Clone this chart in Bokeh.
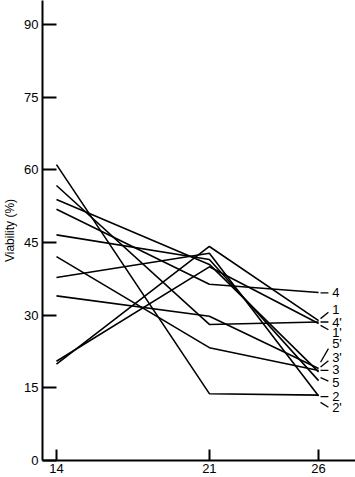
from bokeh.plotting import figure
from bokeh.models import FixedTicker, ColumnDataSource, Range1d
from bokeh.core.properties import value
from bokeh.embed import file_html
from bokeh.resources import INLINE

# ---- data ----
days = [14, 21, 26]
y_ticks = [0, 15, 30, 45, 60, 75, 90]

v_1 = [19.9, 44.2, 28.9]
v_1p = [20.5, 40.0, 28.3]
v_2 = [61.1, 13.8, 13.5]
v_2p = [37.8, 42.8, 13.3]
v_3 = [53.9, 40.5, 18.3]
v_3p = [42.1, 23.3, 18.6]
v_4 = [51.9, 36.4, 34.7]
v_4p = [56.8, 28.1, 28.6]
v_5 = [46.6, 41.5, 16.5]
v_5p = [34.0, 29.8, 19.0]

series = [v_1, v_1p, v_2, v_2p, v_3, v_3p, v_4, v_4p, v_5, v_5p]

# end labels (top to bottom) and their layout positions
label_text = ["4", "1", "4'", "1'", "5'", "3'", "3", "5", "2", "2'"]
label_y = [34.6, 31.1, 28.6, 26.5, 24.1, 21.2, 18.7, 16.2, 13.2, 10.9]
leader_y0 = [34.6, 29.3, 28.6, 27.9, 20.3, 19.3, 18.6, 17.1, 13.2, 12.0]
leader_y1 = [34.6, 30.6, 28.6, 27.0, 23.1, 20.6, 18.6, 16.4, 13.2, 11.0]
leader_x0 = 26.09
leader_x1 = 26.45
label_x = 26.62

FONT = "Liberation Sans"

p = figure(width=355, height=477, output_backend="svg", toolbar_location=None,
           x_range=Range1d(13.36, 27.69), y_range=Range1d(0, 95),
           min_border_left=41, min_border_right=0, min_border_top=0,
           min_border_bottom=17)
p.outline_line_color = None
p.background_fill_color = "white"
p.border_fill_color = "white"
p.xgrid.visible = False
p.ygrid.visible = False

for s in series:
    p.line(days, s, line_color="black", line_width=1.6)

n = len(label_text)
leaders = ColumnDataSource(dict(x0=[leader_x0] * n, x1=[leader_x1] * n,
                                y0=leader_y0, y1=leader_y1))
p.segment(x0="x0", y0="y0", x1="x1", y1="y1", source=leaders,
          line_color="black", line_width=1.3)

labels = ColumnDataSource(dict(x=[label_x] * n, y=label_y, t=label_text))
p.text(x="x", y="y", text="t", source=labels, text_font=value(FONT),
       text_font_size="13px", text_align="left", text_baseline="middle",
       text_color="black")

# axes
p.xaxis.ticker = FixedTicker(ticks=days)
p.yaxis.ticker = FixedTicker(ticks=y_ticks)
for ax in (p.xaxis[0], p.yaxis[0]):
    ax.axis_line_width = 2
    ax.axis_line_color = "black"
    ax.major_tick_line_width = 2
    ax.major_tick_line_color = "black"
    ax.major_tick_out = 0
    ax.minor_tick_line_color = None
    ax.major_label_text_font = FONT
    ax.major_label_text_font_size = "13px"
    ax.major_label_text_color = "black"

p.yaxis.major_tick_in = 14
p.xaxis.major_tick_in = 11
p.yaxis.major_label_standoff = 4
p.xaxis.major_label_standoff = 3

p.yaxis.axis_label = "Viability (%)"
p.yaxis.axis_label_text_font = FONT
p.yaxis.axis_label_text_font_size = "12px"
p.yaxis.axis_label_text_font_style = "normal"
p.yaxis.axis_label_text_color = "black"
p.yaxis.axis_label_standoff = 4

open("out.html", "w").write(file_html(p, INLINE))
